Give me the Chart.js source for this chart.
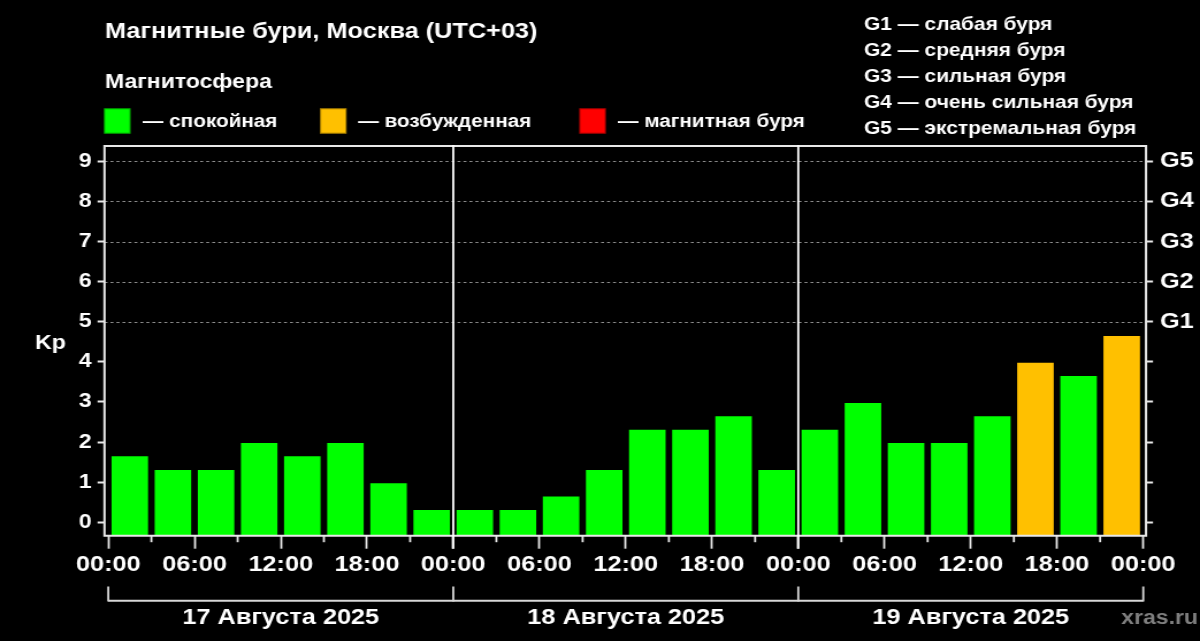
<!DOCTYPE html>
<html><head><meta charset="utf-8">
<script src="https://cdn.jsdelivr.net/npm/chart.js@4.4.1/dist/chart.umd.min.js"></script>
<style>
html,body{margin:0;padding:0;background:#000;overflow:hidden;width:1200px;height:641px}
#wrap{position:absolute;left:0;top:0;transform-origin:0 0}
canvas{display:block}
</style>
</head><body><div id="wrap"><canvas id="c" width="1043" height="641"></canvas></div>
<script>
// ---------- data ----------
const titleText = 'Магнитные бури, Москва (UTC+03)';
const sectionText = 'Магнитосфера';
const stateLabels = ['— спокойная', '— возбужденная', '— магнитная буря'];
const stateColors = ['#00ff00', '#ffc000', '#ff0000'];
const gLevelLabels = ['G1 — слабая буря', 'G2 — средняя буря', 'G3 — сильная буря', 'G4 — очень сильная буря', 'G5 — экстремальная буря'];
const dayLabels = ['17 Августа 2025', '18 Августа 2025', '19 Августа 2025'];
const slotHours = [1.5, 4.5, 7.5, 10.5, 13.5, 16.5, 19.5, 22.5,
                   25.5, 28.5, 31.5, 34.5, 37.5, 40.5, 43.5, 46.5,
                   49.5, 52.5, 55.5, 58.5, 61.5, 64.5, 67.5, 70.5];
const kpValues = [1.67, 1.33, 1.33, 2.00, 1.67, 2.00, 1.00, 0.33,
                  0.33, 0.33, 0.67, 1.33, 2.33, 2.33, 2.67, 1.33,
                  2.33, 3.00, 2.00, 2.00, 2.67, 4.00, 3.67, 4.67];
const kpTicks = [0, 1, 2, 3, 4, 5, 6, 7, 8, 9];
const gTickValues = [5, 6, 7, 8, 9];
const gTickLabels = ['G1', 'G2', 'G3', 'G4', 'G5'];
const hourTicks = [0, 6, 12, 18, 24, 30, 36, 42, 48, 54, 60, 66, 72];
const minorHourTicks = [3, 9, 15, 21, 27, 33, 39, 45, 51, 57, 63, 69];
const hourTickLabels = ['00:00', '06:00', '12:00', '18:00'];
const dayBoundaries = [24, 48];
const dayEdges = [0, 24, 48, 72];
const gridLevels = [5, 6, 7, 8, 9];

// ---------- layout ----------
const K = 1200 / 1043;              // horizontal stretch of the original artwork
document.getElementById('wrap').style.transform = 'scaleX(' + K + ')';
const X = v => v / K;
const FONT = "'Liberation Sans', Arial, Helvetica, sans-serif";
const font = s => 'bold ' + s + 'px ' + FONT;
const Y_MIN = -0.334, Y_MAX = 9.381;

const barColors = kpValues.map(v => v >= 5 ? stateColors[2] : (v >= 4 ? stateColors[1] : stateColors[0]));

const deco = {
  id: 'deco',
  beforeDatasetsDraw(chart) {
    const {ctx, chartArea: a, scales: {y}} = chart;
    ctx.save();
    ctx.strokeStyle = '#8c8c8c';
    ctx.lineWidth = 1;
    ctx.setLineDash([2.6, 2.6]);
    gridLevels.forEach(v => {
      const py = Math.round(y.getPixelForValue(v)) + 0.5;
      ctx.beginPath(); ctx.moveTo(a.left, py); ctx.lineTo(a.right, py); ctx.stroke();
    });
    ctx.restore();
  },
  afterDraw(chart) {
    const {ctx, chartArea: a, scales: {x}} = chart;
    ctx.save();
    // frame
    ctx.strokeStyle = '#e8e8e8';
    ctx.lineWidth = 2;
    ctx.beginPath();
    ctx.moveTo(a.left, a.top); ctx.lineTo(a.right, a.top); ctx.lineTo(a.right, a.bottom);
    ctx.lineTo(a.left, a.bottom); ctx.closePath(); ctx.stroke();
    // day boundaries
    ctx.strokeStyle = '#ffffff';
    ctx.lineWidth = 1.8;
    dayBoundaries.forEach(h => {
      const px = x.getPixelForValue(h);
      ctx.beginPath(); ctx.moveTo(px, a.top - 1); ctx.lineTo(px, a.bottom + 13); ctx.stroke();
    });
    // minor ticks
    ctx.strokeStyle = '#e8e8e8';
    minorHourTicks.forEach(h => {
      const px = x.getPixelForValue(h);
      ctx.beginPath(); ctx.moveTo(px, a.bottom); ctx.lineTo(px, a.bottom + 6.5); ctx.stroke();
    });
    // day brackets
    ctx.strokeStyle = '#d8d8d8';
    ctx.lineWidth = 2;
    const bx0 = x.getPixelForValue(dayEdges[0]), bx1 = x.getPixelForValue(dayEdges[dayEdges.length - 1]);
    ctx.beginPath(); ctx.moveTo(bx0, 600.7); ctx.lineTo(bx1, 600.7); ctx.stroke();
    ctx.lineWidth = 1.8;
    dayEdges.forEach(h => {
      const px = x.getPixelForValue(h);
      ctx.beginPath(); ctx.moveTo(px, 586.5); ctx.lineTo(px, 601.5); ctx.stroke();
    });
    // day labels
    ctx.fillStyle = '#ffffff';
    ctx.font = font(22);
    ctx.textAlign = 'center';
    ctx.textBaseline = 'alphabetic';
    dayLabels.forEach((t, i) => ctx.fillText(t, x.getPixelForValue((dayEdges[i] + dayEdges[i + 1]) / 2), 624));
    // watermark
    ctx.fillStyle = '#7f7f7f';
    ctx.textAlign = 'right';
    ctx.font = font(20);
    ctx.fillText('xras.ru', X(1198), 624);
    // titles
    ctx.fillStyle = '#ffffff';
    ctx.textAlign = 'left';
    ctx.font = font(22);
    ctx.fillText(titleText, X(105), 38);
    ctx.font = font(20);
    ctx.fillText(sectionText, X(105), 88);
    // state legend
    const sqX = [104, 320, 579.3], txX = [142.7, 358, 617.7];
    ctx.font = font(18);
    stateLabels.forEach((t, i) => {
      ctx.fillStyle = stateColors[i];
      ctx.fillRect(X(sqX[i]), 108.3, X(26.5), 25.4);
      ctx.strokeStyle = 'rgba(0,0,0,0.35)';
      ctx.lineWidth = 1;
      ctx.strokeRect(X(sqX[i]) + 0.5, 108.8, X(26.5) - 1, 24.4);
      ctx.fillStyle = '#ffffff';
      ctx.fillText(t, X(txX[i]), 126.5);
    });
    // storm level legend
    ctx.font = font(18.2);
    gLevelLabels.forEach((t, i) => ctx.fillText(t, X(864), 30 + 26 * i));
    // axis title
    ctx.textAlign = 'center';
    ctx.font = font(20);
    ctx.fillText('Kp', X(50.5), 348.5);
    ctx.restore();
  }
};

new Chart(document.getElementById('c'), {
  type: 'bar',
  data: {
    datasets: [{
      data: slotHours.map((h, i) => ({x: h, y: kpValues[i]})),
      backgroundColor: barColors,
      borderColor: 'rgba(0,0,0,0.3)',
      borderWidth: 1,
      borderSkipped: 'bottom',
      base: Y_MIN,
      barPercentage: 0.9,
      categoryPercentage: 1.0
    }]
  },
  options: {
    responsive: false,
    animation: false,
    devicePixelRatio: 1,
    layout: {padding: {top: 146, left: 0, right: 0, bottom: 0}},
    plugins: {legend: {display: false}, tooltip: {enabled: false}},
    scales: {
      x: {
        type: 'linear', min: -0.26, max: 72.19, offset: false,
        afterBuildTicks: s => { s.ticks = hourTicks.map(v => ({value: v})); },
        ticks: {autoSkip: false, maxRotation: 0, color: '#ffffff', padding: 3,
                font: {family: FONT, size: 22, weight: 'bold'},
                callback: v => hourTickLabels[(v % 24) / 6]},
        grid: {display: true, offset: false, drawOnChartArea: false, drawTicks: true, tickLength: 13, tickColor: '#e8e8e8', tickWidth: 1.8},
        border: {display: false},
        afterFit: s => { s.height = 641 - 535.7; }
      },
      y: {
        position: 'left', min: Y_MIN, max: Y_MAX,
        afterBuildTicks: s => { s.ticks = kpTicks.map(v => ({value: v})); },
        ticks: {color: '#ffffff', padding: 5, font: {family: FONT, size: 20, weight: 'bold'}},
        grid: {drawOnChartArea: false, drawTicks: true, tickLength: X(7), tickColor: '#e8e8e8', tickWidth: 2},
        border: {display: false},
        afterFit: s => { s.width = X(104.5); }
      },
      y2: {
        position: 'right', min: Y_MIN, max: Y_MAX,
        afterBuildTicks: s => { s.ticks = kpTicks.map(v => ({value: v})); },
        ticks: {color: '#ffffff', padding: X(7), font: {family: FONT, size: 22, weight: 'bold'},
                callback: v => { const j = gTickValues.indexOf(v); return j >= 0 ? gTickLabels[j] : ''; }},
        grid: {drawOnChartArea: false, drawTicks: true, tickLength: X(7), tickColor: '#e8e8e8', tickWidth: 2},
        border: {display: false},
        afterFit: s => { s.width = X(54); }
      }
    }
  },
  plugins: [deco]
});
</script>
</body></html>
